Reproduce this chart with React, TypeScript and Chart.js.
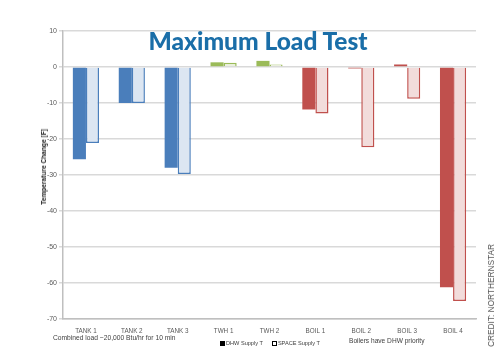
import React, { useEffect, useRef } from "react";
import { Chart, registerables } from "chart.js";

Chart.register(...registerables);

const categories = ["TANK 1", "TANK 2", "TANK 3", "TWH 1", "TWH 2", "BOIL 1", "BOIL 2", "BOIL 3", "BOIL 4"];
const dhwSupply = [-25.6, -10, -28, 1.3, 1.7, -11.8, -0.4, 0.7, -61.2];
const spaceSupply = [-21.1, -10, -29.7, 1.2, 0.7, -12.9, -22.3, -8.8, -65];
const yTicks = [10, 0, -10, -20, -30, -40, -50, -60, -70];

const groupOf = ["tank", "tank", "tank", "twh", "twh", "boil", "boil", "boil", "boil"];
const darkColors: Record<string, string> = { tank: "#4a7ebb", twh: "#9bbb59", boil: "#c0504d" };
const lightColors: Record<string, string> = { tank: "#dce6f2", twh: "#ebf1de", boil: "#f2dcdb" };

export default function App() {
  const ref = useRef<HTMLCanvasElement | null>(null);
  useEffect(() => {
    if (!ref.current) return;
    const chart = new Chart(ref.current, {
      type: "bar",
      data: {
        labels: categories,
        datasets: [
          {
            label: "DHW Supply T",
            data: dhwSupply,
            backgroundColor: groupOf.map((g) => darkColors[g]),
            borderColor: groupOf.map((g) => darkColors[g]),
            borderWidth: 0,
            categoryPercentage: 0.57,
            barPercentage: 1,
          },
          {
            label: "SPACE Supply T",
            data: spaceSupply,
            backgroundColor: groupOf.map((g) => lightColors[g]),
            borderColor: groupOf.map((g) => darkColors[g]),
            borderWidth: 1.5,
            categoryPercentage: 0.57,
            barPercentage: 1,
          },
        ],
      },
      options: {
        responsive: false,
        animation: false,
        layout: { padding: { left: 0, right: 24, top: 31, bottom: 14 } },
        plugins: { legend: { display: false }, tooltip: { enabled: false } },
        scales: {
          x: {
            grid: { display: false },
            border: { display: true, color: "#bfbfbf", width: 1.5 },
            ticks: { color: "#595959", font: { family: "Liberation Sans", size: 6.3 }, maxRotation: 0, padding: 0 },
            afterFit: (s: any) => { s.height = 20; },
          },
          y: {
            min: -70,
            max: 10,
            afterBuildTicks: (s: any) => { s.ticks = yTicks.map((v) => ({ value: v })); },
            grid: { color: "#d9d9d9", lineWidth: 1.5, drawTicks: true, tickLength: 4 },
            border: { display: true, color: "#bfbfbf", width: 1.5 },
            ticks: { color: "#595959", font: { family: "Liberation Sans", size: 7 }, padding: 2 },
            afterFit: (s: any) => { s.width = 63; },
          },
        },
      },
    });
    return () => chart.destroy();
  }, []);

  const small: React.CSSProperties = { position: "absolute", fontFamily: "Liberation Sans, sans-serif", color: "#404040", whiteSpace: "nowrap" };
  const vertical: React.CSSProperties = { writingMode: "vertical-rl", transform: "rotate(180deg)" };

  return (
    <div style={{ position: "fixed", left: 0, top: 0, width: 500, height: 353, background: "#fff", overflow: "hidden" }}>
      <canvas ref={ref} width={500} height={353} style={{ position: "absolute", left: 0, top: 0 }} />
      <div style={{ position: "absolute", left: 0, width: 516, top: 26, textAlign: "center", fontFamily: "Lato, sans-serif", fontWeight: 900, fontSize: 24.5, color: "#1a6ea8", lineHeight: "30px" }}>
        Maximum Load Test
      </div>
      <div style={{ ...small, ...vertical, left: 40, top: 129, fontSize: 6.6, fontWeight: "bold", color: "#222", lineHeight: "8px" }}>
        Temperature Change [F]
      </div>
      <div style={{ ...small, left: 53, top: 334, fontSize: 6.7 }}>Combined load ~20,000 Btu/hr for 10 min</div>
      <div style={{ ...small, left: 349, top: 337, fontSize: 6.6 }}>Boilers have DHW priority</div>
      <div style={{ ...small, left: 220, top: 340, fontSize: 5.6, display: "flex", alignItems: "center" }}>
        <span style={{ display: "inline-block", width: 5, height: 5, background: "#000", marginRight: 1 }} />
        <span>DHW Supply T</span>
        <span style={{ display: "inline-block", width: 3, height: 3, border: "1px solid #000", background: "#fff", marginLeft: 9, marginRight: 1 }} />
        <span>SPACE Supply T</span>
      </div>
      <div style={{ ...small, ...vertical, left: 485, top: 244, fontSize: 8.3, color: "#555", lineHeight: "12px" }}>
        CREDIT: NORTHERNSTAR
      </div>
    </div>
  );
}
